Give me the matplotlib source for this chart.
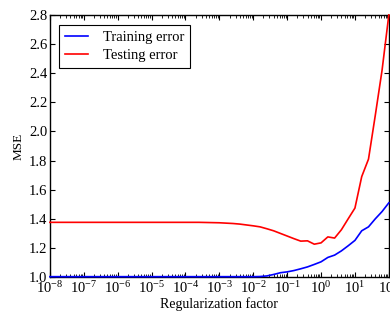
import numpy as np
import matplotlib
matplotlib.use("Agg")
import matplotlib.pyplot as plt
from matplotlib.ticker import LogLocator, NullFormatter, MultipleLocator

plt.rcParams['font.family'] = ['Liberation Serif', 'DejaVu Serif']
plt.rcParams['mathtext.fontset'] = 'custom'
plt.rcParams['mathtext.rm'] = 'Liberation Serif'
plt.rcParams['mathtext.it'] = 'Liberation Serif:italic'

# log10 of regularization factor
log_reg = [-8.0, -4.0, -3.6, -3.0, -2.6, -2.4, -2.2, -2.0, -1.8, -1.6, -1.4, -1.2,
           -1.0, -0.8, -0.6, -0.4, -0.2, 0.0, 0.2, 0.4, 0.6, 0.8, 1.0, 1.2,
           1.4, 1.6, 1.8, 2.0]
train_err = [1.003, 1.003, 1.003, 1.003, 1.003, 1.003, 1.003, 1.003, 1.004, 1.008, 1.018, 1.030,
             1.036, 1.045, 1.057, 1.070, 1.087, 1.105, 1.135, 1.151, 1.180, 1.215, 1.252, 1.318,
             1.345, 1.400, 1.450, 1.510]
test_err = [1.376, 1.376, 1.376, 1.373, 1.368, 1.364, 1.358, 1.352, 1.345, 1.332, 1.318, 1.300,
            1.282, 1.264, 1.247, 1.249, 1.226, 1.235, 1.276, 1.268, 1.325, 1.400, 1.474, 1.690,
            1.810, 2.110, 2.420, 2.800]

reg = 10.0 ** np.array(log_reg)

fig = plt.figure(figsize=(3.9, 3.11), dpi=100)
ax = fig.add_axes([0.128, 0.109, 0.869, 0.843])

ax.plot(reg, train_err, color='#0000ff', lw=1.2, label='Training error', clip_on=False, zorder=3)
ax.plot(reg, test_err, color='#ff0000', lw=1.2, label='Testing error', clip_on=False, zorder=3)

ax.set_xscale('log')
ax.set_xlim(1e-8, 1e2)
ax.set_ylim(1.0, 2.8)
ax.xaxis.set_major_locator(LogLocator(base=10, numticks=20))
ax.xaxis.set_minor_locator(LogLocator(base=10, subs=np.arange(2, 10), numticks=20))
ax.xaxis.set_minor_formatter(NullFormatter())
ax.yaxis.set_major_locator(MultipleLocator(0.2))
ax.yaxis.set_major_formatter(plt.FuncFormatter(lambda v, p: f"{v:.1f}"))

ax.tick_params(which='both', direction='in', top=True, right=True, labelsize=10.5, pad=2)
ax.tick_params(which='major', length=3.5, width=0.8)
ax.tick_params(which='minor', length=2, width=0.6)
for s in ax.spines.values():
    s.set_linewidth(1.0)

ax.set_xlabel('Regularization factor', fontsize=10, labelpad=1)
ax.set_ylabel('MSE', fontsize=9.5, labelpad=3)

leg = ax.legend(loc='upper left', fontsize=10.5, frameon=True, fancybox=False,
                edgecolor='black', framealpha=1, borderpad=0.4, handlelength=1.6,
                handletextpad=1.0, labelspacing=0.35, bbox_to_anchor=(0.005, 0.99))
leg.get_frame().set_linewidth(0.8)

fig.savefig('out.png', dpi=100)
